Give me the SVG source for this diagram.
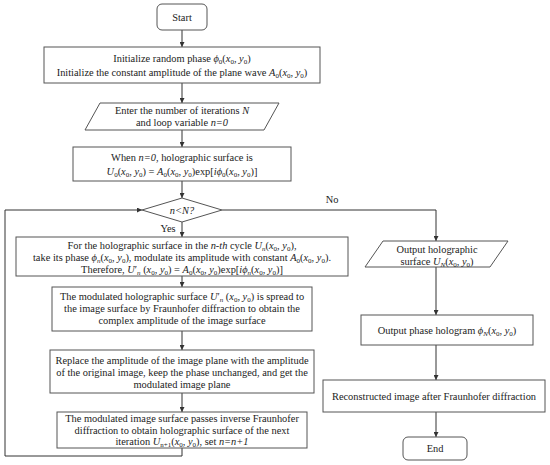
<svg xmlns="http://www.w3.org/2000/svg" width="550" height="465" viewBox="0 0 550 465">
<style>
.b{fill:#fff;stroke:#555;stroke-width:1}
.c{fill:none;stroke:#333;stroke-width:1}
.t{font-family:"Liberation Serif","Times New Roman",serif;font-size:10.4px;fill:#222;text-anchor:middle}
.m{font-style:italic}
.s{font-size:7px;baseline-shift:-2px}
</style>
<defs>
<marker id="ah" viewBox="0 0 6 6" refX="6" refY="3" markerWidth="5" markerHeight="5" orient="auto" markerUnits="userSpaceOnUse">
<path d="M0,0 L6,3 L0,6 z" fill="#333"/>
</marker>
</defs>
<rect width="550" height="465" fill="#fff"/>
<g id="connectors">
<line class="c" x1="182" y1="30" x2="182" y2="47" marker-end="url(#ah)"/>
<line class="c" x1="182" y1="83" x2="182" y2="103" marker-end="url(#ah)"/>
<line class="c" x1="182" y1="130" x2="182" y2="147" marker-end="url(#ah)"/>
<line class="c" x1="182" y1="181" x2="182" y2="198" marker-end="url(#ah)"/>
<line class="c" x1="182" y1="222" x2="182" y2="237" marker-end="url(#ah)"/>
<line class="c" x1="182" y1="276" x2="182" y2="287" marker-end="url(#ah)"/>
<line class="c" x1="182" y1="331" x2="182" y2="350" marker-end="url(#ah)"/>
<line class="c" x1="182" y1="393" x2="182" y2="412" marker-end="url(#ah)"/>
<polyline class="c" points="182,448 182,456 5,456 5,210 142,210" marker-end="url(#ah)"/>
<polyline class="c" points="222,210 436,210 436,241" marker-end="url(#ah)"/>
<line class="c" x1="436" y1="267" x2="436" y2="315" marker-end="url(#ah)"/>
<line class="c" x1="436" y1="345" x2="436" y2="380" marker-end="url(#ah)"/>
<line class="c" x1="436" y1="412" x2="436" y2="437" marker-end="url(#ah)"/>
<text class="t" x="168" y="232">Yes</text>
<text class="t" x="332" y="203">No</text>
</g>
<g id="start">
<rect class="b" x="157" y="4" width="50" height="26" rx="5"/>
<text class="t" x="182" y="21">Start</text>
</g>
<g id="init">
<rect class="b" x="44" y="47" width="276" height="36"/>
<text class="t" x="182" y="62">Initialize random phase <tspan class="m">ϕ</tspan><tspan class="s">0</tspan>(<tspan class="m">x</tspan><tspan class="s">0</tspan>, <tspan class="m">y</tspan><tspan class="s">0</tspan>)</text>
<text class="t" x="182" y="76">Initialize the constant amplitude of the plane wave <tspan class="m">A</tspan><tspan class="s">0</tspan>(<tspan class="m">x</tspan><tspan class="s">0</tspan>, <tspan class="m">y</tspan><tspan class="s">0</tspan>)</text>
</g>
<g id="enter">
<polygon class="b" points="100,103 279,103 264,130 85,130"/>
<text class="t" x="182" y="114">Enter the number of iterations <tspan class="m">N</tspan></text>
<text class="t" x="182" y="126">and loop variable <tspan class="m">n=0</tspan></text>
</g>
<g id="when">
<rect class="b" x="73" y="147" width="218" height="34"/>
<text class="t" x="182" y="161">When <tspan class="m">n=0</tspan>, holographic surface is</text>
<text class="t" x="182" y="175"><tspan class="m">U</tspan><tspan class="s">0</tspan>(<tspan class="m">x</tspan><tspan class="s">0</tspan>, <tspan class="m">y</tspan><tspan class="s">0</tspan>) = <tspan class="m">A</tspan><tspan class="s">0</tspan>(<tspan class="m">x</tspan><tspan class="s">0</tspan>, <tspan class="m">y</tspan><tspan class="s">0</tspan>)exp[<tspan class="m">iϕ</tspan><tspan class="s">0</tspan>(<tspan class="m">x</tspan><tspan class="s">0</tspan>, <tspan class="m">y</tspan><tspan class="s">0</tspan>)]</text>
</g>
<g id="decision">
<polygon class="b" points="182,198 222,210 182,222 142,210"/>
<text class="t m" x="182" y="213.5">n&lt;N?</text>
</g>
<g id="cycle">
<rect class="b" x="16" y="237" width="332" height="39"/>
<text class="t" x="182" y="249">For the holographic surface in the <tspan class="m">n-th</tspan> cycle <tspan class="m">U</tspan><tspan class="s m">n</tspan>(<tspan class="m">x</tspan><tspan class="s">0</tspan>, <tspan class="m">y</tspan><tspan class="s">0</tspan>),</text>
<text class="t" x="182" y="261">take its phase <tspan class="m">ϕ</tspan><tspan class="s m">n</tspan>(<tspan class="m">x</tspan><tspan class="s">0</tspan>, <tspan class="m">y</tspan><tspan class="s">0</tspan>), modulate its amplitude with constant  <tspan class="m">A</tspan><tspan class="s">0</tspan>(<tspan class="m">x</tspan><tspan class="s">0</tspan>, <tspan class="m">y</tspan><tspan class="s">0</tspan>).</text>
<text class="t" x="182" y="273">Therefore, <tspan class="m">U</tspan>′<tspan class="s m">n</tspan> (<tspan class="m">x</tspan><tspan class="s">0</tspan>, <tspan class="m">y</tspan><tspan class="s">0</tspan>) = <tspan class="m">A</tspan><tspan class="s">0</tspan>(<tspan class="m">x</tspan><tspan class="s">0</tspan>, <tspan class="m">y</tspan><tspan class="s">0</tspan>)exp[<tspan class="m">iϕ</tspan><tspan class="s m">n</tspan>(<tspan class="m">x</tspan><tspan class="s">0</tspan>, <tspan class="m">y</tspan><tspan class="s">0</tspan>)]</text>
</g>
<g id="spread">
<rect class="b" x="52" y="287" width="260" height="44"/>
<text class="t" x="182" y="299.5">The modulated holographic surface <tspan class="m">U</tspan>′<tspan class="s m">n</tspan> (<tspan class="m">x</tspan><tspan class="s">0</tspan>, <tspan class="m">y</tspan><tspan class="s">0</tspan>) is spread to</text>
<text class="t" x="182" y="311.5">the image surface by Fraunhofer diffraction to obtain the</text>
<text class="t" x="182" y="323.5">complex amplitude of the image surface</text>
</g>
<g id="replace">
<rect class="b" x="50" y="350" width="264" height="43"/>
<text class="t" x="182" y="364">Replace the amplitude of the image plane with the amplitude</text>
<text class="t" x="182" y="376">of the original image, keep the phase unchanged, and get the</text>
<text class="t" x="182" y="388">modulated image plane</text>
</g>
<g id="inverse">
<rect class="b" x="57" y="412" width="250" height="36"/>
<text class="t" x="182" y="422">The modulated image surface passes inverse Fraunhofer</text>
<text class="t" x="182" y="433.5">diffraction to obtain holographic surface of the next</text>
<text class="t" x="182" y="445">iteration <tspan class="m">U</tspan><tspan class="s">n+1</tspan>(<tspan class="m">x</tspan><tspan class="s">0</tspan>, <tspan class="m">y</tspan><tspan class="s">0</tspan>), set <tspan class="m">n=n+1</tspan></text>
</g>
<g id="output-surface">
<polygon class="b" points="383,241 508,241 490,267 365,267"/>
<text class="t" x="437" y="253">Output holographic</text>
<text class="t" x="437" y="265">surface <tspan class="m">U</tspan><tspan class="s m">N</tspan>(<tspan class="m">x</tspan><tspan class="s">0</tspan>, <tspan class="m">y</tspan><tspan class="s">0</tspan>)</text>
</g>
<g id="output-phase">
<rect class="b" x="361" y="315" width="172" height="30"/>
<text class="t" x="447" y="333.5">Output phase hologram <tspan class="m">ϕ</tspan><tspan class="s m">N</tspan>(<tspan class="m">x</tspan><tspan class="s">0</tspan>, <tspan class="m">y</tspan><tspan class="s">0</tspan>)</text>
</g>
<g id="reconstructed">
<rect class="b" x="323" y="380" width="222" height="32"/>
<text class="t" x="434" y="399.5">Reconstructed image after Fraunhofer diffraction</text>
</g>
<g id="end">
<rect class="b" x="403" y="437" width="64" height="23" rx="5"/>
<text class="t" x="435" y="452">End</text>
</g>
</svg>
